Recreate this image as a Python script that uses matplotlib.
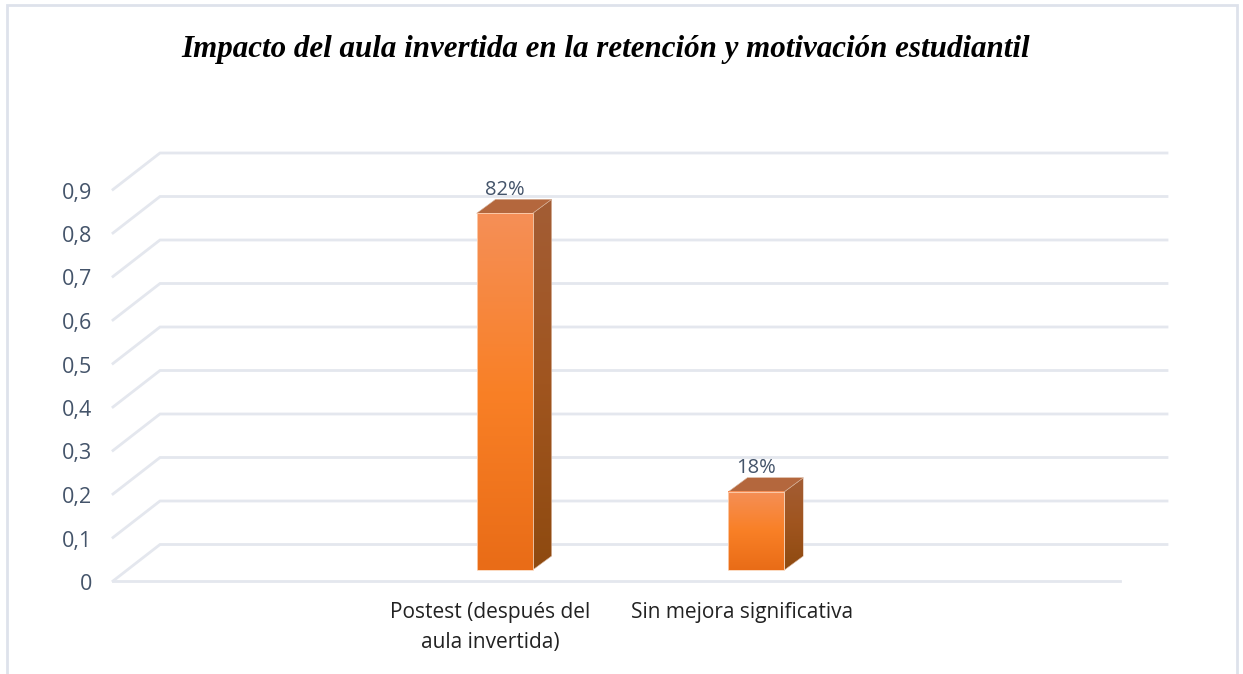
#!/usr/bin/env python3
# -*- coding: utf-8 -*-
import numpy as np
import matplotlib
matplotlib.use("Agg")
import matplotlib.pyplot as plt
from matplotlib.colors import LinearSegmentedColormap
from matplotlib.lines import Line2D
from matplotlib.patches import Polygon
from matplotlib.transforms import Affine2D

title = "Impacto del aula invertida en la retención y motivación estudiantil"
categories = ["", "Postest (después del\naula invertida)", "Sin mejora significativa", ""]
values = [np.nan, 0.82, 0.18, np.nan]
bar_labels = ["", "82%", "18%", ""]
y_ticks = [0, 0.1, 0.2, 0.3, 0.4, 0.5, 0.6, 0.7, 0.8, 0.9]
y_tick_labels = ["0", "0,1", "0,2", "0,3", "0,4", "0,5", "0,6", "0,7", "0,8", "0,9"]

W, H = 1243, 674
LEFT, RIGHT, Y0, Y9 = 113, 1120, 581, 189.5
GRID = "#E4E7EE"
FRAME = "#DEE2EB"
TEXT = "#44546A"

front_cmap = LinearSegmentedColormap.from_list("front", ["#F58F57", "#F98026", "#E96C17"])
side_cmap = LinearSegmentedColormap.from_list("side", ["#A35D35", "#A0551F", "#8E4A10"])

fig = plt.figure(figsize=(W / 100, H / 100), dpi=100, facecolor="white")
ax = fig.add_axes([LEFT / W, 1 - Y0 / H, (RIGHT - LEFT) / W, (Y0 - Y9) / H])
ax.patch.set_visible(False)
for s in ax.spines.values():
    s.set_visible(False)

xpos = np.arange(len(categories))
ax.set_xlim(-0.5, 3.5)
ax.set_ylim(0, 0.9)

# pixels to data units, for the fake 3d depth
px_x = (len(categories)) / (RIGHT - LEFT)
px_y = 0.9 / (Y0 - Y9)
depth_x, depth_y = 47 * px_x, 36.5 * px_y
bar_w = 56 * px_x
gap_x, gap_y = 14 * px_x, 11 * px_y
bar_dx, bar_dy = 19 * px_x, 14 * px_y

# walls and gridlines
for t in y_ticks:
    ax.plot([-0.5, -0.5 + depth_x, 3.5 + depth_x], [t, t + depth_y, t + depth_y],
            color=GRID, lw=2, clip_on=False, zorder=1, solid_joinstyle="miter")
ax.plot([-0.5, 3.5], [0, 0], color=GRID, lw=2, clip_on=False, zorder=1)

grad = np.linspace(0, 1, 256).reshape(-1, 1)

for x, v, lab in zip(xpos, values, bar_labels):
    if np.isnan(v):
        continue
    x0 = x + gap_x - bar_w / 2
    x1 = x0 + bar_w
    y0 = gap_y
    y1 = y0 + v

    # side face
    side = Polygon([(x1, y0), (x1 + bar_dx, y0 + bar_dy), (x1 + bar_dx, y1 + bar_dy), (x1, y1)],
                   closed=True, fc="none", ec="#D8B49C", lw=0.4, clip_on=False, zorder=3)
    ax.add_patch(side)
    im = ax.imshow(grad, cmap=side_cmap, aspect="auto", origin="upper", zorder=2.9,
                   extent=[x1, x1 + bar_dx, y0, y1 + bar_dy])
    im.set_clip_path(side)

    # top face
    ax.add_patch(Polygon([(x0, y1), (x1, y1), (x1 + bar_dx, y1 + bar_dy), (x0 + bar_dx, y1 + bar_dy)],
                         closed=True, fc="#B4673D", ec="#D8B49C", lw=0.4, clip_on=False, zorder=3))

    # front face
    ax.imshow(grad, cmap=front_cmap, aspect="auto", origin="upper", zorder=3.5,
              extent=[x0, x1, y0, y1])
    ax.bar(x, v, width=bar_w, bottom=y0, align="center", fc="none", ec="#FBD3B6", lw=0.6,
           zorder=3.6).patches[0].set_x(x0)

    ax.text((x0 + x1) / 2, y1 + 23.5 * px_y, lab, ha="center", va="center", fontsize=14.5,
            family="Open Sans", color=TEXT, zorder=5)

ax.set_xlim(-0.5, 3.5)
ax.set_ylim(0, 0.9)

ax.set_yticks(y_ticks)
ax.set_yticklabels(y_tick_labels, fontsize=15.5, family="Open Sans", color=TEXT)
ax.set_xticks(xpos)
ax.set_xticklabels(categories, fontsize=15, family="Open Sans", color="#222222", linespacing=1.6)
ax.tick_params(axis="y", length=0, pad=15)
ax.tick_params(axis="x", length=0, pad=15)

# labels sit a little below their gridline start
for tl in ax.get_yticklabels():
    tl.set_transform(tl.get_transform() + Affine2D().translate(0, -1))

fig.text(606 / W, 1 - 49 / H, title, ha="center", va="center", fontsize=22.3,
         family="Liberation Serif", style="italic", weight="bold", color="black")

# outer frame, open at the bottom
fig.add_artist(Line2D([7 / W, 7 / W, 1237 / W, 1237 / W], [0, 1 - 4.5 / H, 1 - 4.5 / H, 0],
                      color=FRAME, lw=2, solid_joinstyle="miter"))

fig.savefig("out.png", dpi=100)
